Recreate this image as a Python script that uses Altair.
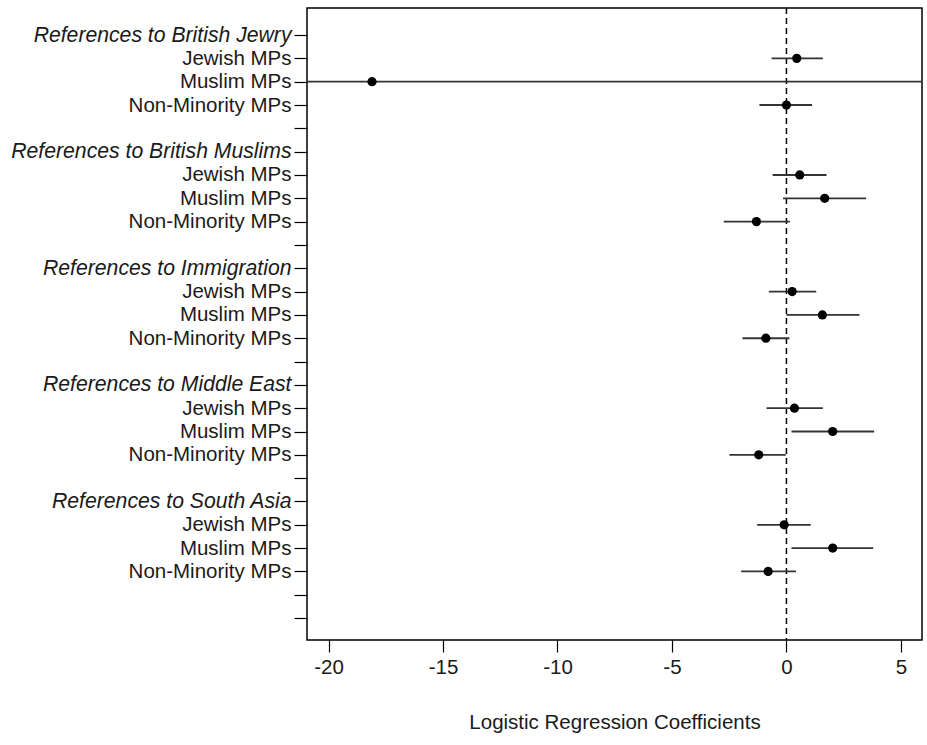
import json
import altair as alt
import pandas as pd

# Row labels (top to bottom), index = position on y axis
row_labels = [
    "References to British Jewry", "Jewish MPs", "Muslim MPs", "Non-Minority MPs", "",
    "References to British Muslims", "Jewish MPs", "Muslim MPs", "Non-Minority MPs", "",
    "References to Immigration", "Jewish MPs", "Muslim MPs", "Non-Minority MPs", "",
    "References to Middle East", "Jewish MPs", "Muslim MPs", "Non-Minority MPs", "",
    "References to South Asia", "Jewish MPs", "Muslim MPs", "Non-Minority MPs", "", "",
]

# Estimates (row index, coefficient, lower, upper)
est_rows = [1, 2, 3, 6, 7, 8, 11, 12, 13, 16, 17, 18, 21, 22, 23]
est_coef = [0.45, -18.1, 0.0, 0.58, 1.67, -1.31, 0.25, 1.57, -0.9, 0.35, 2.02, -1.21, -0.1, 2.02, -0.8]
est_lo = [-0.65, -45.0, -1.18, -0.6, -0.15, -2.74, -0.77, 0.0, -1.92, -0.87, 0.22, -2.49, -1.28, 0.22, -1.98]
est_hi = [1.59, 9.0, 1.12, 1.75, 3.48, 0.15, 1.3, 3.19, 0.13, 1.59, 3.83, -0.03, 1.06, 3.79, 0.42]

x_ticks = [-20, -15, -10, -5, 0, 5]

df = pd.DataFrame({"row": est_rows, "coef": est_coef, "lo": est_lo, "hi": est_hi})
zero_df = pd.DataFrame({"x0": [0]})

FONT = "Liberation Sans"

x_scale = alt.Scale(domain=[-20.94, 5.92], nice=False, zero=False)
y_scale = alt.Scale(domain=[-1.16, 25.94], nice=False, zero=False, reverse=True)

x_axis = alt.Axis(
    values=x_ticks, title="Logistic Regression Coefficients", grid=False, domain=False,
    tickSize=12, tickColor="black", tickWidth=1.2, labelFont=FONT, labelFontSize=20.5,
    labelColor="#1a1a1a", labelPadding=5, labelExpr="'' + datum.value",
    titleFont=FONT, titleFontSize=20.5, titleFontWeight="normal", titleColor="#1a1a1a",
    titlePadding=35, labelOverlap=False,
)

y_axis = alt.Axis(
    values=list(range(len(row_labels))), title=None, grid=False, domain=False,
    tickSize=13, tickColor="black", tickWidth=1.2, labelFont=FONT,
    labelFontSize={"condition": {"test": "datum.value % 5 == 0", "value": 21.2}, "value": 20.5},
    labelColor="#1a1a1a", labelPadding=3, labelOverlap=False, labelBound=False,
    labelLimit=0, tickCount=len(row_labels),
    labelExpr=json.dumps(row_labels) + "[datum.value]",
    labelFontStyle={"condition": {"test": "datum.value % 5 == 0", "value": "italic"}, "value": "normal"},
)

zero_line = alt.Chart(zero_df).mark_rule(color="black", strokeWidth=1.5, strokeDash=[6, 4]).encode(
    x=alt.X("x0:Q", scale=x_scale, axis=x_axis)
)

bars = alt.Chart(df).mark_rule(color="#333333", strokeWidth=1.8, clip=True).encode(
    x=alt.X("lo:Q", scale=x_scale, axis=x_axis),
    x2="hi:Q",
    y=alt.Y("row:Q", scale=y_scale, axis=y_axis),
)

points = alt.Chart(df).mark_circle(color="black", size=85, opacity=1).encode(
    x=alt.X("coef:Q", scale=x_scale, axis=x_axis),
    y=alt.Y("row:Q", scale=y_scale, axis=y_axis),
)

chart = alt.layer(zero_line, bars, points).properties(
    width=615, height=632,
    autosize=alt.AutoSizeParams(type="none"),
    padding={"left": 307, "top": 8, "right": 5, "bottom": 105},
    background="white",
).configure_view(stroke="black", strokeWidth=1.5)

chart.save("out.html", embed_options={"renderer": "svg", "actions": False})
